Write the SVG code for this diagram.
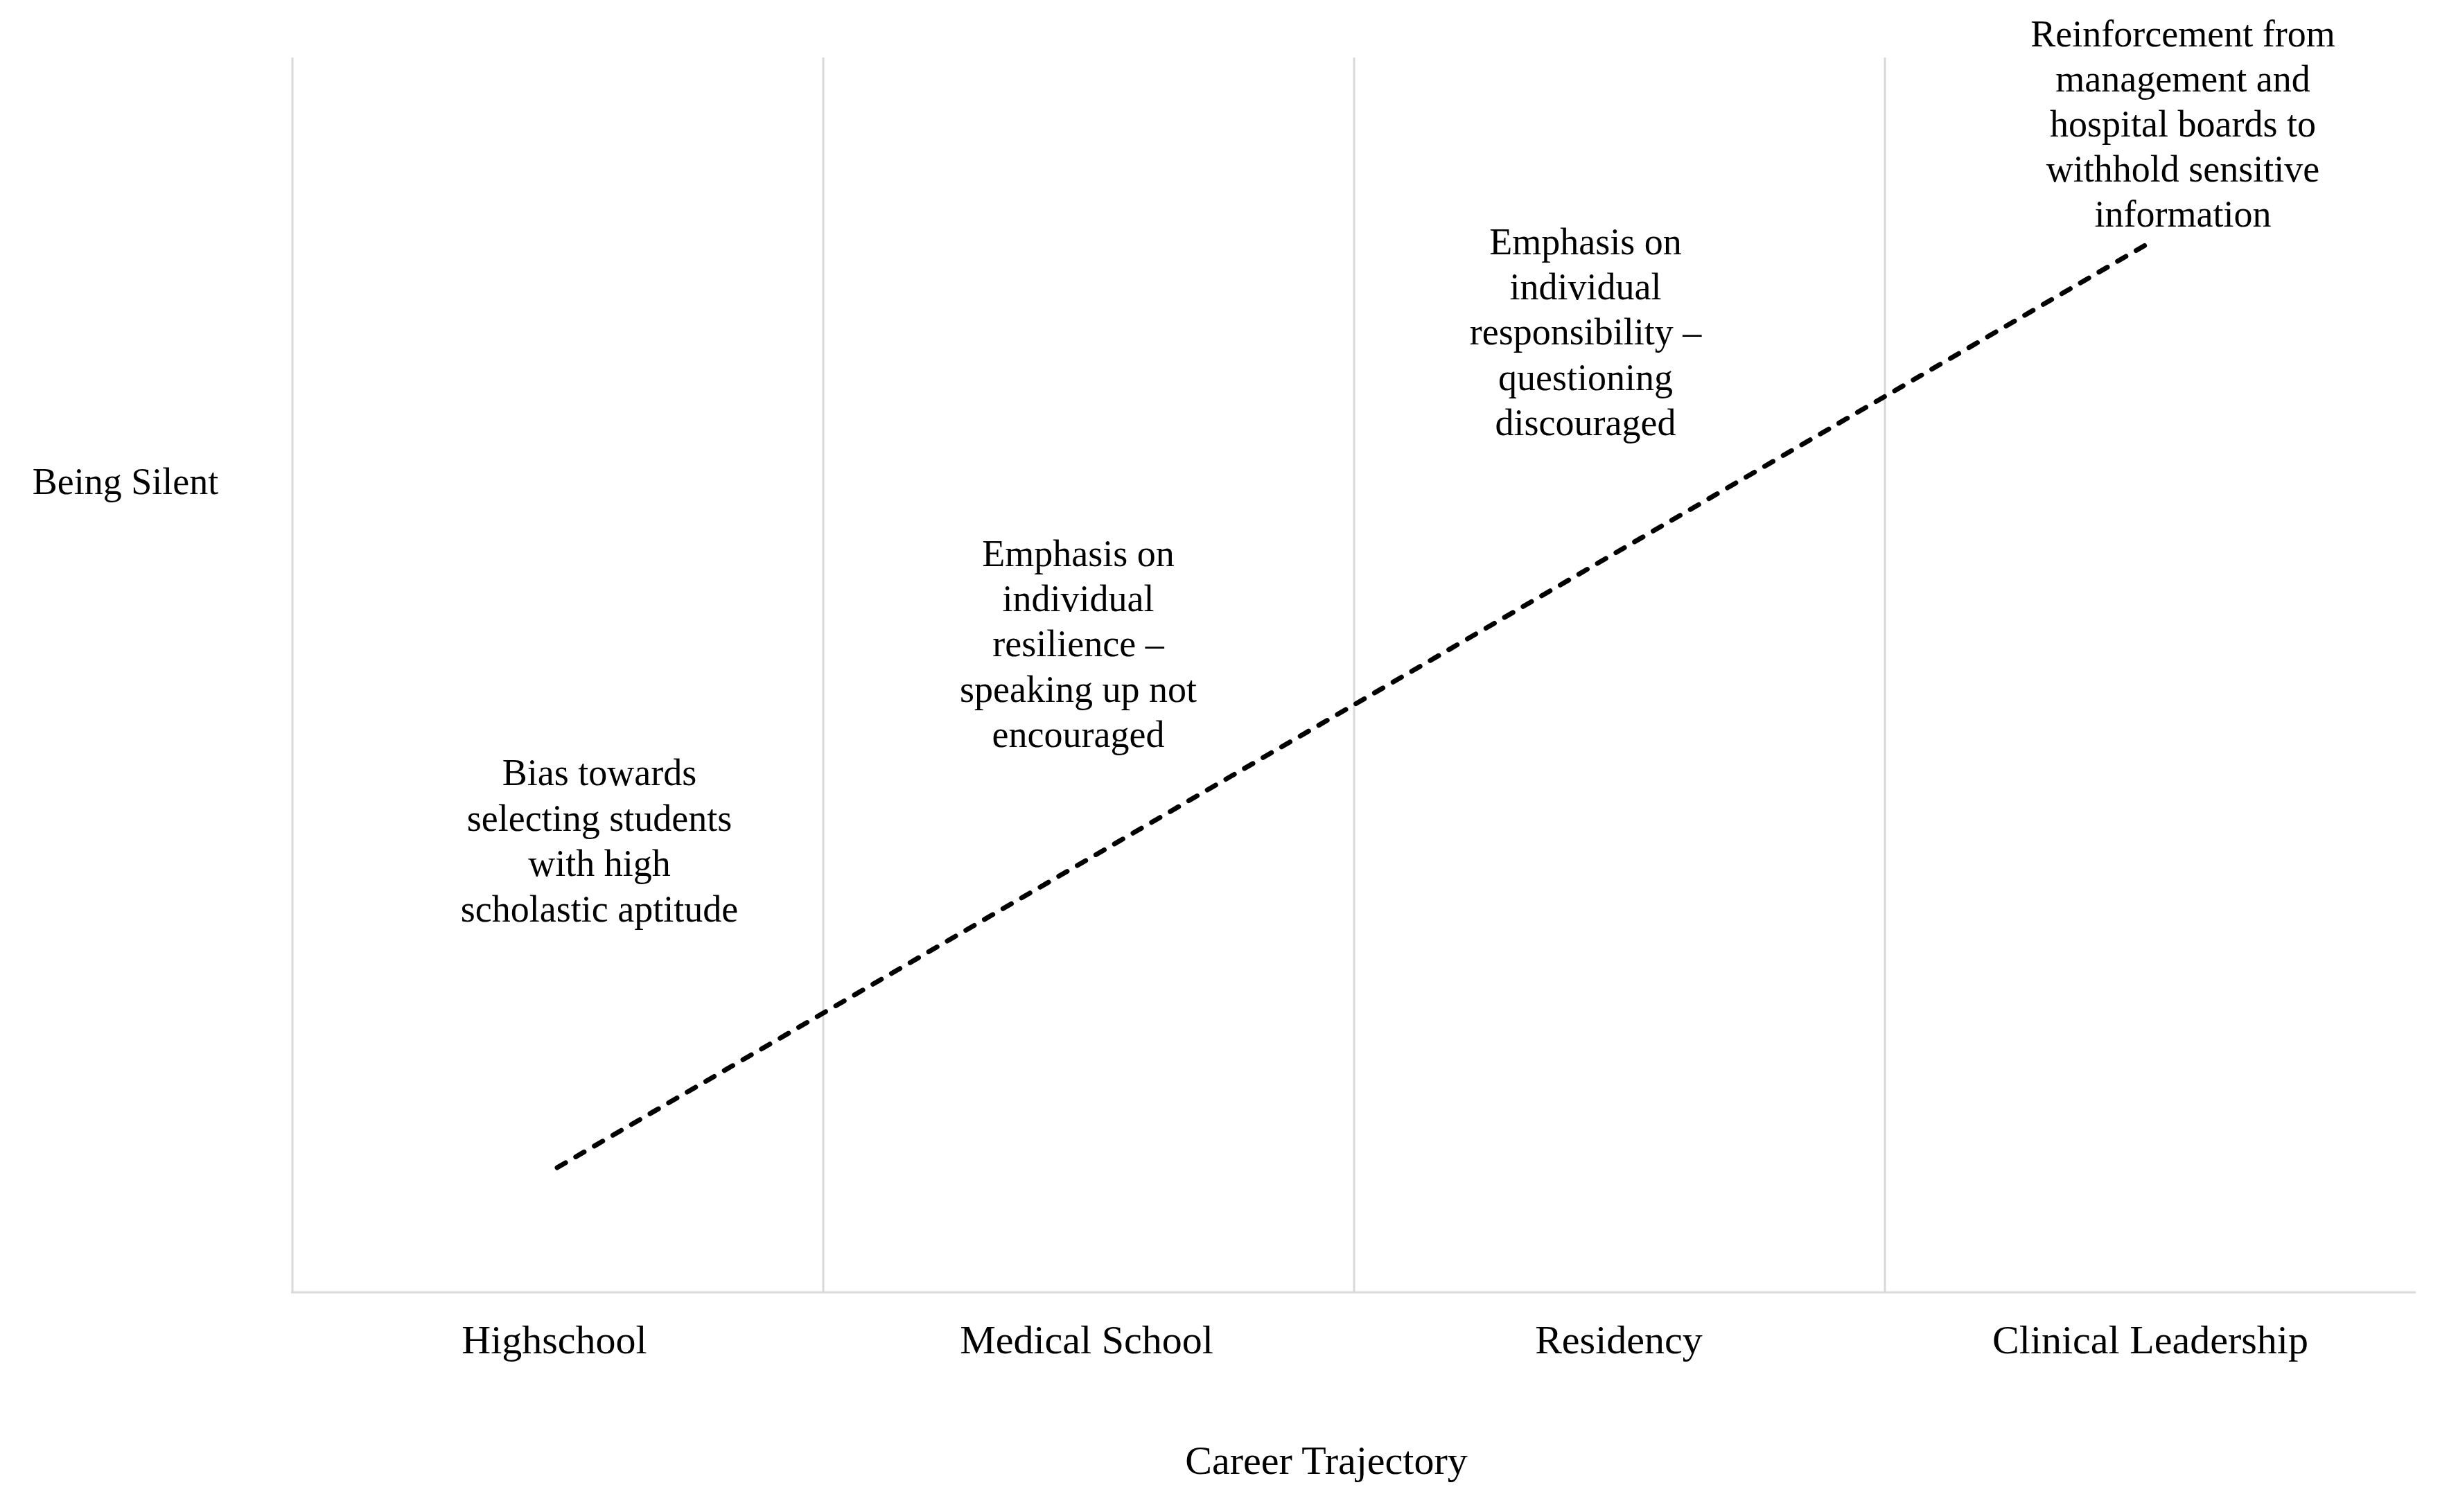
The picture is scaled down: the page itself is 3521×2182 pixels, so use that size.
<svg xmlns="http://www.w3.org/2000/svg" width="3521" height="2182" viewBox="0 0 3521 2182">
<style>
.grid{stroke:#d9d9d9;stroke-width:3;fill:none}
.t{font-family:"Liberation Serif","Times New Roman",serif;fill:#000;text-anchor:middle}
.ann{font-size:54px}
.ax{font-size:58px}
.trend{stroke:#000;stroke-width:7;stroke-dasharray:14 17;stroke-linecap:round;fill:none}
</style>
<rect width="3521" height="2182" fill="#fff"/>
<g id="axes">
<line class="grid" x1="422" y1="83" x2="422" y2="1865"/>
<line class="grid" x1="1188" y1="83" x2="1188" y2="1865"/>
<line class="grid" x1="1954" y1="83" x2="1954" y2="1865"/>
<line class="grid" x1="2720" y1="83" x2="2720" y2="1865"/>
<line class="grid" x1="420" y1="1865" x2="3486" y2="1865"/>
</g>
<g id="connectors">
<line class="trend" x1="804" y1="1685" x2="3104" y2="349"/>
</g>
<g id="y-label"><text class="t ann" x="181" y="713">Being Silent</text></g>
<g id="x-labels">
<text class="t ax" x="800" y="1953">Highschool</text>
<text class="t ax" x="1568" y="1953">Medical School</text>
<text class="t ax" x="2336" y="1953">Residency</text>
<text class="t ax" x="3103" y="1953">Clinical Leadership</text>
<text class="t ax" x="1914" y="2127">Career Trajectory</text>
</g>
<g id="note-highschool">
<text class="t ann" x="865" y="1133">Bias towards</text>
<text class="t ann" x="865" y="1199">selecting students</text>
<text class="t ann" x="865" y="1264">with high</text>
<text class="t ann" x="865" y="1330">scholastic aptitude</text>
</g>
<g id="note-medical">
<text class="t ann" x="1556" y="817">Emphasis on</text>
<text class="t ann" x="1556" y="882">individual</text>
<text class="t ann" x="1556" y="947">resilience –</text>
<text class="t ann" x="1556" y="1013">speaking up not</text>
<text class="t ann" x="1556" y="1078">encouraged</text>
</g>
<g id="note-residency">
<text class="t ann" x="2288" y="367">Emphasis on</text>
<text class="t ann" x="2288" y="432">individual</text>
<text class="t ann" x="2288" y="497">responsibility –</text>
<text class="t ann" x="2288" y="563">questioning</text>
<text class="t ann" x="2288" y="628">discouraged</text>
</g>
<g id="note-leadership">
<text class="t ann" x="3150" y="67">Reinforcement from</text>
<text class="t ann" x="3150" y="132">management and</text>
<text class="t ann" x="3150" y="197">hospital boards to</text>
<text class="t ann" x="3150" y="262">withhold sensitive</text>
<text class="t ann" x="3150" y="327">information</text>
</g>
</svg>
